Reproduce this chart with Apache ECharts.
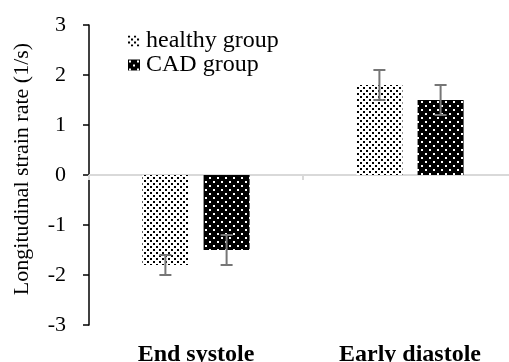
<!DOCTYPE html>
<html>
<head>
<meta charset="utf-8">
<script src="https://cdn.jsdelivr.net/npm/echarts@6/dist/echarts.min.js"></script>
<style>
html, body { margin: 0; padding: 0; background: #fff; }
#chart { width: 509px; height: 362px; }
</style>
</head>
<body>
<div id="chart"></div>
<script>
// 数据
var categories = ['End systole', 'Early diastole'];
var healthyValues = [-1.8, 1.8];
var healthyErrors = [0.2, 0.3];
var cadValues = [-1.5, 1.5];
var cadErrors = [0.3, 0.3];
var yTicks = [-3, -2, -1, 0, 1, 2, 3];

var FONT = '"Liberation Serif", "Times New Roman", serif';

//点状填充图案
function makePattern(bg, fg, size, dots, dot) {
	var c = document.createElement('canvas');
	c.width = size;
	c.height = size;
	var ctx = c.getContext('2d');
	ctx.fillStyle = bg;
	ctx.fillRect(0, 0, size, size);
	ctx.fillStyle = fg;
	for (var i = 0; i < dots.length; i++) {
		ctx.fillRect(dots[i][0], dots[i][1], dot, dot);
	}
	return { image: c, repeat: 'repeat' };
}
var healthyFill = makePattern('#ffffff', '#000000', 6, [[0, 0], [3, 3]], 2);
var cadFill = makePattern('#000000', '#ffffff', 8, [[1, 1], [5, 5]], 2);

var BAR_W = 0.215, BAR_GAP = 0.33;

//误差线
function errorSeries(name, values, errors, side) {
	var data = [];
	for (var i = 0; i < values.length; i++) {
		data.push([i, values[i] - errors[i], values[i] + errors[i]]);
	}
	return {
		name: name + ' err',
		type: 'custom',
		xAxisIndex: 1,
		z: 10,
		silent: true,
		data: data,
		renderItem: function(params, api) {
			var cat = api.value(0);
			var bandW = api.size([1, 0])[0];
			var off = side * bandW * BAR_W * (1 + BAR_GAP) / 2;
			var lo = api.coord([cat, api.value(1)]);
			var hi = api.coord([cat, api.value(2)]);
			var x = lo[0] + off;
			var cap = 6;
			var style = { stroke: '#767676', lineWidth: 2 };
			return {
				type: 'group',
				children: [
					{ type: 'line', shape: { x1: x, y1: lo[1], x2: x, y2: hi[1] }, style: style },
					{ type: 'line', shape: { x1: x - cap, y1: lo[1], x2: x + cap, y2: lo[1] }, style: style },
					{ type: 'line', shape: { x1: x - cap, y1: hi[1], x2: x + cap, y2: hi[1] }, style: style }
				]
			};
		}
	};
}

var chart = echarts.init(document.getElementById('chart'));
chart.setOption({
	animation: false,
	legend: {
		left: 123,
		top: 24,
		orient: 'vertical',
		itemWidth: 12,
		itemHeight: 11,
		itemGap: 0,
		icon: 'rect',
		data: ['healthy group', 'CAD group'],
		textStyle: { fontFamily: FONT, fontSize: 24, color: '#000', padding: [0, 0, 0, 1] }
	},
	grid: { left: 89, right: -8, top: 25, bottom: 37, outerBoundsMode: 'none', containLabel: false },
	xAxis: [{
		type: 'category',
		data: categories,
		position: 'bottom',
		axisLine: { onZero: true, lineStyle: { color: '#d9d9d9', width: 2 } },
		axisTick: { show: true, length: 5, lineStyle: { color: '#d9d9d9', width: 2 } },
		axisLabel: { show: false }
	}, {
		type: 'category',
		data: categories,
		position: 'bottom',
		axisLine: { show: false, onZero: false },
		axisTick: { show: false },
		axisLabel: { margin: 18, fontFamily: FONT, fontSize: 24, fontWeight: 'bold', color: '#000' }
	}],
	yAxis: {
		type: 'value',
		min: yTicks[0],
		max: yTicks[yTicks.length - 1],
		interval: 1,
		name: 'Longitudinal strain rate (1/s)',
		nameLocation: 'middle',
		nameGap: 56,
		nameRotate: 90,
		nameTextStyle: { fontFamily: FONT, fontSize: 22, color: '#000', padding: [0, 0, 0, 12] },
		axisLine: { show: true, lineStyle: { color: '#000', width: 1.5 } },
		axisTick: { show: true, length: 6, lineStyle: { color: '#000', width: 1.5 } },
		axisLabel: { margin: 23, fontFamily: FONT, fontSize: 22, color: '#000' },
		splitLine: { show: false }
	},
	series: [{
		name: 'healthy group',
		type: 'bar',
		barWidth: (BAR_W * 100) + '%',
		barGap: (BAR_GAP * 100) + '%',
		itemStyle: { color: healthyFill },
		data: healthyValues
	}, {
		name: 'CAD group',
		type: 'bar',
		barWidth: (BAR_W * 100) + '%',
		barGap: (BAR_GAP * 100) + '%',
		itemStyle: { color: cadFill },
		data: cadValues
	},
	errorSeries('healthy group', healthyValues, healthyErrors, -1),
	errorSeries('CAD group', cadValues, cadErrors, 1)]
});
</script>
</body>
</html>
